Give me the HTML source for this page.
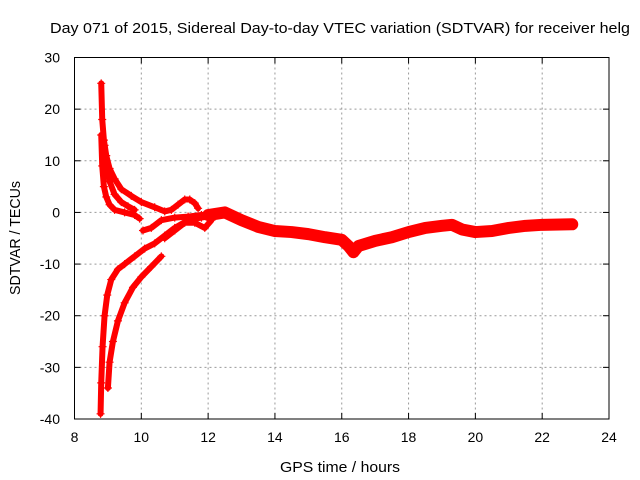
<!DOCTYPE html>
<html><head><meta charset="utf-8"><style>
body{margin:0;background:#fff;}
svg{display:block;font-family:"Liberation Sans",sans-serif;}
</style></head><body>
<svg id="chart" width="640" height="480" viewBox="0 0 640 480">
<rect width="640" height="480" fill="#fff"/>
<text x="340" y="33" font-size="15" text-anchor="middle" textLength="580" lengthAdjust="spacingAndGlyphs">Day 071 of 2015, Sidereal Day-to-day VTEC variation (SDTVAR) for receiver helg</text>
<g id="grid"></g>
<g id="series"></g>
<rect x="74.5" y="57.5" width="534.5" height="361.5" fill="none" stroke="#000" stroke-width="1"/>
<g id="ticks"></g>
<text x="340" y="472" font-size="15" text-anchor="middle" textLength="120" lengthAdjust="spacingAndGlyphs">GPS time / hours</text>
<text transform="translate(20,238) rotate(-90)" font-size="15" text-anchor="middle" textLength="114" lengthAdjust="spacingAndGlyphs">SDTVAR / TECUs</text>
</svg>
<script>
const xTicks=[8,10,12,14,16,18,20,22,24];
const yTicks=[30,20,10,0,-10,-20,-30,-40];
const branchA_x=[8.8,8.83,8.88,8.95,9.05,9.2,9.4,9.7,10.0,10.4,10.7,10.9,11.1,11.3,11.45,11.6,11.7];
const branchA_y=[25,18,14,11,8.5,6.5,4.5,3.2,2,1,0.2,0.5,1.5,2.5,2.5,1.8,0.8];
const branchB_x=[8.8,8.83,8.88,8.95,9.05,9.2,9.5,9.8,9.95];
const branchB_y=[15,9,5,3,1.5,0.5,0,-0.5,-1.2];
const branchC_x=[8.9,8.95,9.05,9.2,9.4,9.6,9.8];
const branchC_y=[13,9,6,3.5,2,1.2,0.5];
const branchD_x=[8.78,8.8,8.84,8.9,8.98,9.1,9.3,9.5,9.8,10.1,10.4,10.7,11.0,11.4,11.8,12.2,12.5];
const branchD_y=[-39,-33,-26,-20,-16,-13,-11,-10,-8.5,-7,-6,-4.5,-3,-1.5,-1,-0.6,0];
const branchE_x=[9.0,9.05,9.15,9.3,9.5,9.75,10.0,10.3,10.6];
const branchE_y=[-34,-29,-25,-21,-17.5,-14.5,-12.5,-10.5,-8.5];
const branchF_x=[10.05,10.3,10.6,11.0,11.4,11.8,12.2];
const branchF_y=[-3.5,-3,-1.5,-1,-0.8,-0.5,-0.3];
const branchG_x=[10.7,11.0,11.3,11.6,11.9,12.1];
const branchG_y=[-5,-3.5,-2,-2,-3,-1.5];
const trail_x=[12.0,12.5,13.0,13.5,14.0,14.5,15.0,15.5,16.0,16.2,16.35,16.5,17.0,17.5,18.0,18.5,19.0,19.3,19.6,20.0,20.5,21.0,21.5,22.0,22.9];
const trail_y=[-0.5,0,-1.5,-2.8,-3.6,-3.8,-4.2,-4.8,-5.3,-6.5,-7.7,-6.5,-5.5,-4.8,-3.8,-3.0,-2.6,-2.4,-3.3,-3.8,-3.6,-3.0,-2.6,-2.4,-2.3];
const X0=74.5,X1=609,Y0=419,Y1=57.5;
const sx=v=>X0+(v-8)/(24-8)*(X1-X0);
const sy=v=>Y0-(v+40)/70*(Y0-Y1);
const NS='http://www.w3.org/2000/svg';
const grid=document.getElementById('grid'),ticks=document.getElementById('ticks'),ser=document.getElementById('series');
function mk(tag,at,parent){const e=document.createElementNS(NS,tag);for(const k in at)e.setAttribute(k,at[k]);parent.appendChild(e);return e;}
xTicks.forEach(v=>{const x=sx(v);
 if(v>8&&v<24){const g=mk('line',{x1:x,x2:x,y1:Y1,y2:Y0,stroke:'#999','stroke-dasharray':'2,3'},grid);
 
 }
 mk('line',{x1:x,x2:x,y1:Y0,y2:Y0-6,stroke:'#000'},ticks);mk('line',{x1:x,x2:x,y1:Y1,y2:Y1+6,stroke:'#000'},ticks);
 const t=mk('text',{x:x,y:442,'font-size':14,'text-anchor':'middle'},ticks);t.textContent=v;
 
 });
yTicks.forEach(v=>{const y=sy(v);
 if(v<30&&v>-40){const g=mk('line',{x1:X0,x2:X1,y1:y,y2:y,stroke:'#999','stroke-dasharray':'2,3'},grid);
 
 }
 mk('line',{x1:X0,x2:X0+6,y1:y,y2:y,stroke:'#000'},ticks);mk('line',{x1:X1,x2:X1-6,y1:y,y2:y,stroke:'#000'},ticks);
 const t=mk('text',{x:60,y:y+5,'font-size':14,'text-anchor':'end'},ticks);t.textContent=v;
 
 });
function branch(xs,ys,w,name){
 const p=mk('polyline',{points:xs.map((x,i)=>sx(x)+','+sy(ys[i])).join(' '),fill:'none',stroke:'#f00','stroke-width':w,'stroke-linejoin':'round','stroke-linecap':'round'},ser);
 
 
 xs.forEach((x,i)=>{const cx=sx(x),cy=sy(ys[i]);
  mk('path',{d:`M${cx-4},${cy}H${cx+4}M${cx},${cy-4}V${cy+4}`,stroke:'#f00','stroke-width':1.2},ser);});
}
branch(branchA_x,branchA_y,6,'branch-a');
branch(branchB_x,branchB_y,6,'branch-b');
branch(branchC_x,branchC_y,6,'branch-c');
branch(branchD_x,branchD_y,6,'branch-d');
branch(branchE_x,branchE_y,6,'branch-e');
branch(branchF_x,branchF_y,6,'branch-f');
branch(branchG_x,branchG_y,6,'branch-g');
branch(trail_x,trail_y,12,'main-trail');
</script>
</body></html>
